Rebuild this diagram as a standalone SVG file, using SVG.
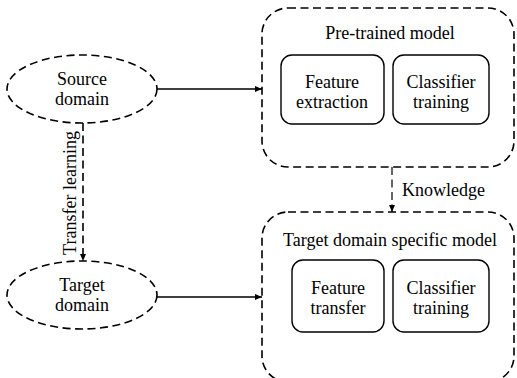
<svg xmlns="http://www.w3.org/2000/svg" width="517" height="378" viewBox="0 0 517 378">
<defs>
<marker id="ah" markerWidth="8" markerHeight="8" refX="7" refY="4" orient="auto" markerUnits="userSpaceOnUse">
<path d="M0,1 L7,4 L0,7 Z" fill="#000"/>
</marker>
</defs>
<style>
text{font-family:"Liberation Serif","Times New Roman",serif;font-size:18px;fill:#000;text-anchor:middle}
.dash{fill:none;stroke:#000;stroke-width:1.6;stroke-dasharray:8,4.5}
.solid{fill:none;stroke:#000;stroke-width:1.4}
.line{fill:none;stroke:#000;stroke-width:1.4}
</style>
<rect width="517" height="378" fill="#fff"/>
<g id="pretrained">
<rect class="dash" x="262" y="8" width="252" height="159" rx="26"/>
<text x="390" y="39">Pre-trained model</text>
</g>
<g id="feature-extraction">
<rect class="solid" x="281" y="55" width="103" height="69" rx="11"/>
<text x="332" y="88">Feature</text>
<text x="332" y="108">extraction</text>
</g>
<g id="classifier-training-1">
<rect class="solid" x="393" y="55" width="96" height="69" rx="11"/>
<text x="441" y="88">Classifier</text>
<text x="441" y="108">training</text>
</g>
<g id="target-model">
<rect class="dash" x="262" y="212" width="252" height="170" rx="26"/>
<text x="390" y="246">Target domain specific model</text>
</g>
<g id="feature-transfer">
<rect class="solid" x="292" y="260" width="92" height="72" rx="11"/>
<text x="338" y="294">Feature</text>
<text x="338" y="314">transfer</text>
</g>
<g id="classifier-training-2">
<rect class="solid" x="393" y="260" width="96" height="72" rx="11"/>
<text x="441" y="294">Classifier</text>
<text x="441" y="314">training</text>
</g>
<g id="source-domain">
<ellipse class="dash" cx="82" cy="89" rx="75" ry="34"/>
<text x="82" y="85">Source</text>
<text x="82" y="105">domain</text>
</g>
<g id="target-domain">
<ellipse class="dash" cx="82" cy="295" rx="75" ry="34"/>
<text x="82" y="291">Target</text>
<text x="82" y="311">domain</text>
</g>
<g id="connectors">
<line class="line" x1="157" y1="89" x2="262" y2="89" marker-end="url(#ah)"/>
<line class="line" x1="157" y1="297" x2="262" y2="297" marker-end="url(#ah)"/>
<line class="dash" x1="83" y1="123" x2="83" y2="261" marker-end="url(#ah)"/>
<line class="dash" x1="392" y1="167" x2="392" y2="212" style="stroke-width:1.2" marker-end="url(#ah)"/>
<text x="0" y="0" transform="translate(76,193) rotate(-90)">Transfer learning</text>
<text x="402" y="196" style="text-anchor:start">Knowledge</text>
</g>
</svg>
